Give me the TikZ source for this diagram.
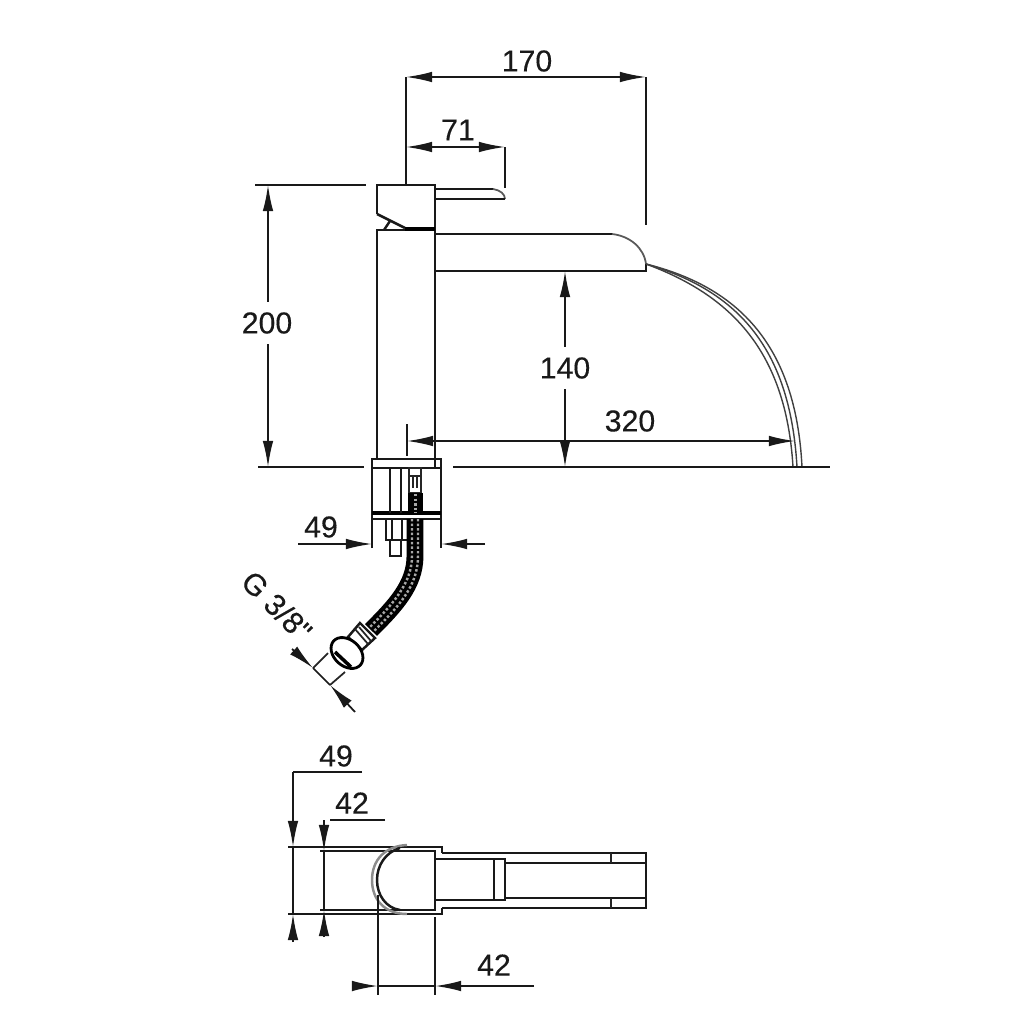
\documentclass[tikz,border=0pt]{standalone}
\usepackage{fontspec}
\setmainfont{Liberation Sans}
\newfontfamily\dimfont[FakeBold=0.35]{Liberation Sans}
\usetikzlibrary{arrows.meta}
\tikzset{
  outline/.style={line width=0.7pt, black!90},
  thinline/.style={line width=0.5pt, black!85},
  dimline/.style={line width=0.5pt, black!90},
  dimtip/.tip={Latex[length=7.4pt,width=3pt]},
  dimlabel/.style={font=\dimfont\fontsize{8.6}{10}\selectfont, text=black!90, inner sep=1.5pt},
  gaplabel/.style={dimlabel, fill=white, inner ysep=3pt},
  strand/.style={line width=0.4pt, black!75},
  braid/.style={white!65!black, line width=0.7pt, dash pattern=on 0.7pt off 0.6pt}
}
\begin{document}
\begin{tikzpicture}[x=0.01cm, y=-0.01cm]
\useasboundingbox (0,0) rectangle (1024,1024);
% tap head and body
\draw[outline] (377,214) -- (377,185) -- (435,185) -- (435,467);
\draw[outline] (377,214) -- (405,228);
\draw[line width=1.3pt] (405,229) -- (435,229);
\draw[outline] (384,230) -- (390,221);
\draw[outline] (377,459) -- (377,230) -- (405,230);
% lever
\draw[outline] (435,189) -- (493,189);
\draw[thinline, black!65] (493,189) .. controls (500,190) and (505,194) .. (505,199);
\draw[outline] (505,199) -- (435,199);
% spout
\draw[outline] (435,234) -- (612,234);
\draw[thinline, black!65] (612,234) .. controls (630,236) and (644,248) .. (646,264);
\draw[outline] (435,271) -- (646,271) -- (646,264);
% water
\draw[strand] (646,264) .. controls (730,295) and (786,350) .. (793,467);
\draw[strand] (646,264) .. controls (735,290) and (790,345) .. (797,467);
\draw[strand] (646,264) .. controls (738,287) and (796,345) .. (802,467);
% worktop
\draw[outline] (258,467) -- (364,467);
\draw[outline] (453,467) -- (830,467);
% fixing block
\draw[outline] (372,548) -- (372,459) -- (441,459) -- (441,548);
\draw[outline] (372,468) -- (441,468);
\draw[line width=1pt] (372,513) -- (441,513);
\draw[outline] (372,519) -- (441,519);
\draw[outline] (390,468) -- (390,513);
\draw[outline] (401,468) -- (401,513);
\draw[outline] (386,519) -- (386,540) -- (408,540);
\draw[outline] (392,519) -- (392,540);
\draw[outline] (402,519) -- (402,540);
\draw[outline] (390,540) -- (390,556) -- (401,556) -- (401,540);
% hose connector
\draw[thinline] (409,468) rectangle (421,476);
\draw[thinline] (409,476) rectangle (421,493);
\draw[thinline] (413,476) -- (413,488);
\draw[thinline] (417,476) -- (417,488);
% hose
\fill (408,493) rectangle (423,513);
\draw[braid] (415.5,494) -- (415.5,513);
\draw[black, line width=4.8pt] (415,519) -- (415,556) .. controls (415,585) and (395,606) .. (371,630);
\draw[braid] (412,519) -- (412,556) .. controls (412,583) and (393,604) .. (369,628);
\draw[braid] (418,519) -- (418,556) .. controls (418,587) and (397,608) .. (373,632);
% hose end
\draw[outline, fill=white] (360,623) -- (375,638) -- (362,650) -- (348,637) -- cycle;
\draw[thinline] (355,629) -- (368,644);
\draw[thinline] (359,627) -- (371,641);
\draw[line width=0.8pt, fill=white] (347,653) ellipse [x radius=18, y radius=13, rotate=-42];
\draw[line width=1pt] (335,652) -- (351,667);
% top view
\draw[outline] (442,853) -- (646,853) -- (646,908) -- (442,908);
\draw[outline] (390,847) -- (442,847) -- (442,853);
\draw[outline] (390,914) -- (442,914) -- (442,908);
\draw[outline] (320,851) -- (435,851) -- (435,910) -- (320,910);
\draw[outline] (435,859) -- (505,859) -- (505,900) -- (435,900);
\draw[outline] (494,859) -- (494,900);
\draw[outline] (505,863) -- (646,863);
\draw[outline] (505,898) -- (646,898);
\draw[thinline] (611,853) -- (611,863);
\draw[thinline] (611,898) -- (611,908);
\draw[thinline, black!45, line width=0.7pt] (407,845) .. controls (385,846) and (372,860) .. (372,880) .. controls (372,900) and (385,914) .. (407,914);
\draw[outline] (400,848) .. controls (386,852) and (377,865) .. (377,880) .. controls (377,895) and (386,908) .. (400,910);
% dimension 170
\coordinate (d170a) at (406,77);
\coordinate (d170b) at (646,77);
\node[dimlabel] (t170) at (527,61) {170};
\draw[dimline] (d170a) -- (406,185);
\draw[dimline] (d170b) -- (646,225);
\draw[dimline, dimtip-dimtip] (d170a) -- (d170b);
% dimension 71
\coordinate (d71a) at (406,147);
\coordinate (d71b) at (505,147);
\node[dimlabel] (t71) at (458,130) {71};
\draw[outline] (d71b) -- (505,188);
\draw[dimline, dimtip-dimtip] (d71a) -- (d71b);
% dimension 200
\coordinate (d200a) at (268,185);
\coordinate (d200b) at (268,467);
\draw[dimline] (255,185) -- (366,185);
\draw[dimline, dimtip-dimtip] (d200a) -- (d200b);
\node[gaplabel] (t200) at (267,323) {200};
% dimension 140
\coordinate (d140a) at (565,271);
\coordinate (d140b) at (565,467);
\draw[dimline, dimtip-dimtip] (d140a) -- (d140b);
\node[gaplabel] (t140) at (565,368) {140};
% dimension 320
\coordinate (d320a) at (407,441);
\coordinate (d320b) at (795,441);
\node[dimlabel] (t320) at (630,421) {320};
\draw[dimline] (407,424) -- (407,456);
\draw[dimline, dimtip-dimtip] (d320a) -- (d320b);
% dimension 49, block
\coordinate (d49a) at (372,544);
\coordinate (d49b) at (441,544);
\node[dimlabel] (t49a) at (321,527) {49};
\draw[dimline, -dimtip] (298,544) -- (d49a);
\draw[dimline, -dimtip] (485,544) -- (d49b);
% dimension G 3/8
\coordinate (dGa) at (313,668);
\coordinate (dGb) at (330,685);
\node[dimlabel, rotate=-45] (tG) at (277,606) {G 3/8"};
\draw[thinline] (dGa) -- (328,653);
\draw[thinline] (dGb) -- (345,672);
\draw[dimline] (dGa) -- (dGb);
\draw[dimline, -dimtip] (292,649) -- (dGa);
\draw[dimline, -dimtip] (355,712) -- (dGb);
% dimension 49, top view
\coordinate (d49c) at (293,847);
\coordinate (d49d) at (293,914);
\node[dimlabel] (t49b) at (336,756) {49};
\draw[dimline] (362,772) -- (293,772);
\draw[dimline, -dimtip] (293,772) -- (d49c);
\draw[dimline] (d49c) -- (d49d);
\draw[dimline, -dimtip] (293,942) -- (d49d);
\draw[dimline] (288,847) -- (390,847);
\draw[dimline] (288,914) -- (390,914);
% dimension 42, top view
\coordinate (d42a) at (324,851);
\coordinate (d42b) at (324,910);
\node[dimlabel] (t42a) at (352,803) {42};
\draw[dimline] (385,820) -- (330,820);
\draw[dimline, -dimtip] (324,820) -- (d42a);
\draw[dimline] (d42a) -- (d42b);
\draw[dimline, -dimtip] (324,937) -- (d42b);
% dimension 42, below
\coordinate (d42c) at (378,986);
\coordinate (d42d) at (435,986);
\node[dimlabel] (t42b) at (494,965) {42};
\draw[dimline] (378,895) -- (378,995);
\draw[dimline] (435,917) -- (435,995);
\draw[dimline] (d42c) -- (d42d);
\draw[dimline, -dimtip] (353,986) -- (d42c);
\draw[dimline, -dimtip] (534,986) -- (d42d);
\end{tikzpicture}
\end{document}
